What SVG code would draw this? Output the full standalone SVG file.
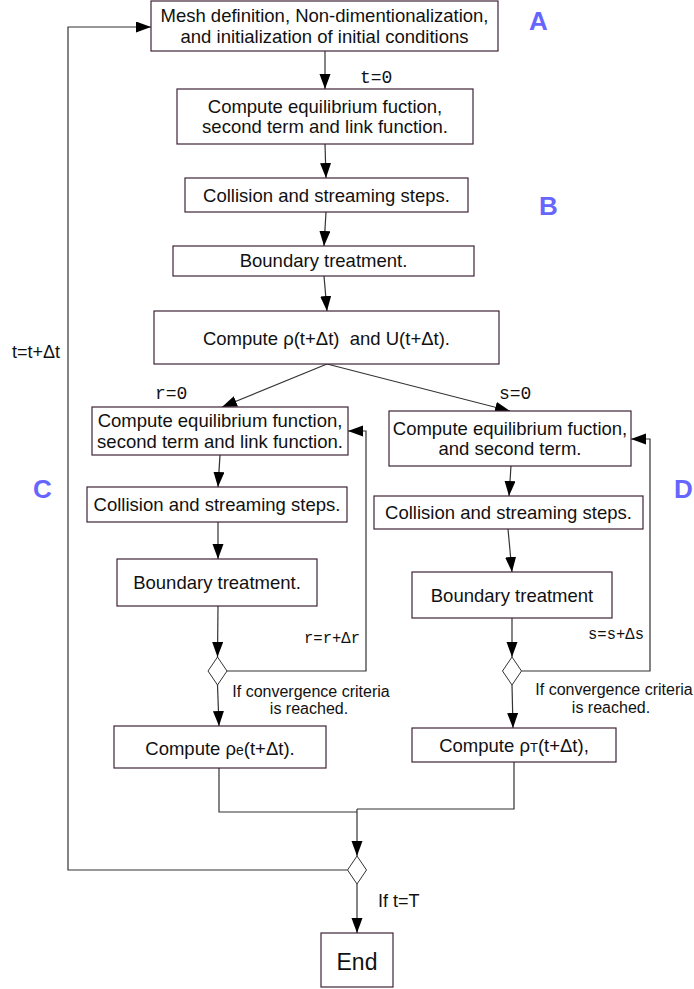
<svg xmlns="http://www.w3.org/2000/svg" width="694" height="989" viewBox="0 0 694 989">
<style>
.box{fill:#fff;stroke:#3f2336;stroke-width:1.2}
.dia{fill:#fff;stroke:#333;stroke-width:1}
.t{font-family:"Liberation Sans",Arial,sans-serif;font-size:18.5px;fill:#111;text-anchor:middle}
.s{font-family:"Liberation Sans",Arial,sans-serif;font-size:16px;fill:#111}
.m{font-family:"Liberation Mono","Courier New",monospace;font-size:18px;fill:#111}
.lbl{font-family:"Liberation Sans",Arial,sans-serif;font-size:26px;font-weight:bold;fill:#6666ff}
.c{fill:none;stroke:#333;stroke-width:1.2}
.a{marker-end:url(#ah)}
</style>
<defs>
<marker id="ah" markerUnits="userSpaceOnUse" markerWidth="16" markerHeight="12" refX="15" refY="5.5" orient="auto">
<path d="M0,0 L15,5.5 L0,11 z" fill="#000"/>
</marker>
</defs>
<g id="connectors">
<path class="c a" d="M325,51 L325,89"/>
<path class="c a" d="M325,144 L326,178"/>
<path class="c a" d="M326,212 L324,246"/>
<path class="c a" d="M324,276 L327,311"/>
<path class="c a" d="M327,364 L222,407"/>
<path class="c a" d="M327,364 L510,411"/>
<path class="c a" d="M220,455 L218,487"/>
<path class="c a" d="M218,522 L218,559"/>
<path class="c a" d="M218,606 L217.5,657"/>
<path class="c a" d="M217.5,685 L219,726"/>
<path class="c a" d="M227,671 L366,671 L366,431 L348,431"/>
<path class="c a" d="M511,466 L509,496"/>
<path class="c a" d="M508,529 L512,572"/>
<path class="c a" d="M512,618 L512,657"/>
<path class="c a" d="M512,685 L513,728"/>
<path class="c a" d="M521.5,671 L650,671 L650,439 L631,439"/>
<path class="c" d="M219,768 L219,812 L357,812"/>
<path class="c" d="M514,762 L514,809 L357,809"/>
<path class="c a" d="M357,809 L357,856"/>
<path class="c a" d="M347.5,870 L68,870 L68,27 L151,27"/>
<path class="c a" d="M357,884 L357,933"/>
</g>
<g id="n1"><rect class="box" x="151" y="1" width="347" height="50"/>
<text class="t" x="324.5" y="22">Mesh definition, Non-dimentionalization,</text>
<text class="t" x="324.5" y="43">and initialization of initial conditions</text></g>
<g id="n2"><rect class="box" x="177" y="89" width="296" height="55"/>
<text class="t" x="325" y="113">Compute equilibrium fuction,</text>
<text class="t" x="325" y="133">second term and link function.</text></g>
<g id="n3"><rect class="box" x="185" y="178" width="283" height="34"/>
<text class="t" x="326.5" y="201.5">Collision and streaming steps.</text></g>
<g id="n4"><rect class="box" x="173" y="246" width="301" height="30"/>
<text class="t" x="323.5" y="267">Boundary treatment.</text></g>
<g id="n5"><rect class="box" x="154" y="311" width="345" height="53"/>
<text class="t" x="326.5" y="345" style="white-space:pre">Compute ρ(t+Δt)  and U(t+Δt).</text></g>
<g id="l1"><rect class="box" x="92" y="407" width="256" height="48"/>
<text class="t" x="220" y="427">Compute equilibrium function,</text>
<text class="t" x="220" y="447.5">second term and link function.</text></g>
<g id="l2"><rect class="box" x="87" y="487" width="260" height="35"/>
<text class="t" x="217" y="510.5">Collision and streaming steps.</text></g>
<g id="l3"><rect class="box" x="117" y="559" width="200" height="47"/>
<text class="t" x="217" y="588.5">Boundary treatment.</text></g>
<g id="ld"><path class="dia" d="M217.5,657 L227,671 L217.5,685 L208,671 Z"/></g>
<g id="l4"><rect class="box" x="114" y="726" width="212" height="42"/>
<text class="t" x="220" y="755">Compute ρ<tspan font-size="14">e</tspan>(t+Δt).</text></g>
<g id="r1"><rect class="box" x="389" y="411" width="242" height="55"/>
<text class="t" x="510" y="434.5">Compute equilibrium fuction,</text>
<text class="t" x="510" y="455">and second term.</text></g>
<g id="r2"><rect class="box" x="374" y="496" width="269" height="33"/>
<text class="t" x="508.5" y="518.5">Collision and streaming steps.</text></g>
<g id="r3"><rect class="box" x="412" y="572" width="200" height="46"/>
<text class="t" x="512" y="601.5">Boundary treatment</text></g>
<g id="rd"><path class="dia" d="M512,657 L521.5,671 L512,685 L502.5,671 Z"/></g>
<g id="r4"><rect class="box" x="412" y="728" width="204" height="34"/>
<text class="t" x="514" y="752">Compute ρ<tspan font-size="13">T</tspan>(t+Δt),</text></g>
<g id="bd"><path class="dia" d="M357,856 L366.5,870 L357,884 L347.5,870 Z"/></g>
<g id="end"><rect class="box" x="321" y="933" width="72" height="54"/>
<text class="t" x="357" y="969.5" style="font-size:23px">End</text></g>
<g id="labels">
<text class="m" x="360" y="83">t=0</text>
<text class="m" x="155" y="399">r=0</text>
<text class="m" x="499" y="399">s=0</text>
<text class="m" x="304" y="643" textLength="56" lengthAdjust="spacingAndGlyphs" style="font-size:16px">r=r+Δr</text>
<text class="m" x="588" y="639" textLength="56" lengthAdjust="spacingAndGlyphs" style="font-size:16px">s=s+Δs</text>
<text class="s" x="12" y="358" style="font-size:18px">t=t+Δt</text>
<text class="s" x="311" y="697" text-anchor="middle">If convergence criteria</text>
<text class="s" x="309" y="714" text-anchor="middle">is reached.</text>
<text class="s" x="614" y="695" text-anchor="middle">If convergence criteria</text>
<text class="s" x="611" y="713" text-anchor="middle">is reached.</text>
<text class="s" x="378" y="907" style="font-size:18px">If t=T</text>
<text class="lbl" x="529" y="30">A</text>
<text class="lbl" x="539" y="215">B</text>
<text class="lbl" x="33" y="498">C</text>
<text class="lbl" x="674" y="498">D</text>
</g>
</svg>
